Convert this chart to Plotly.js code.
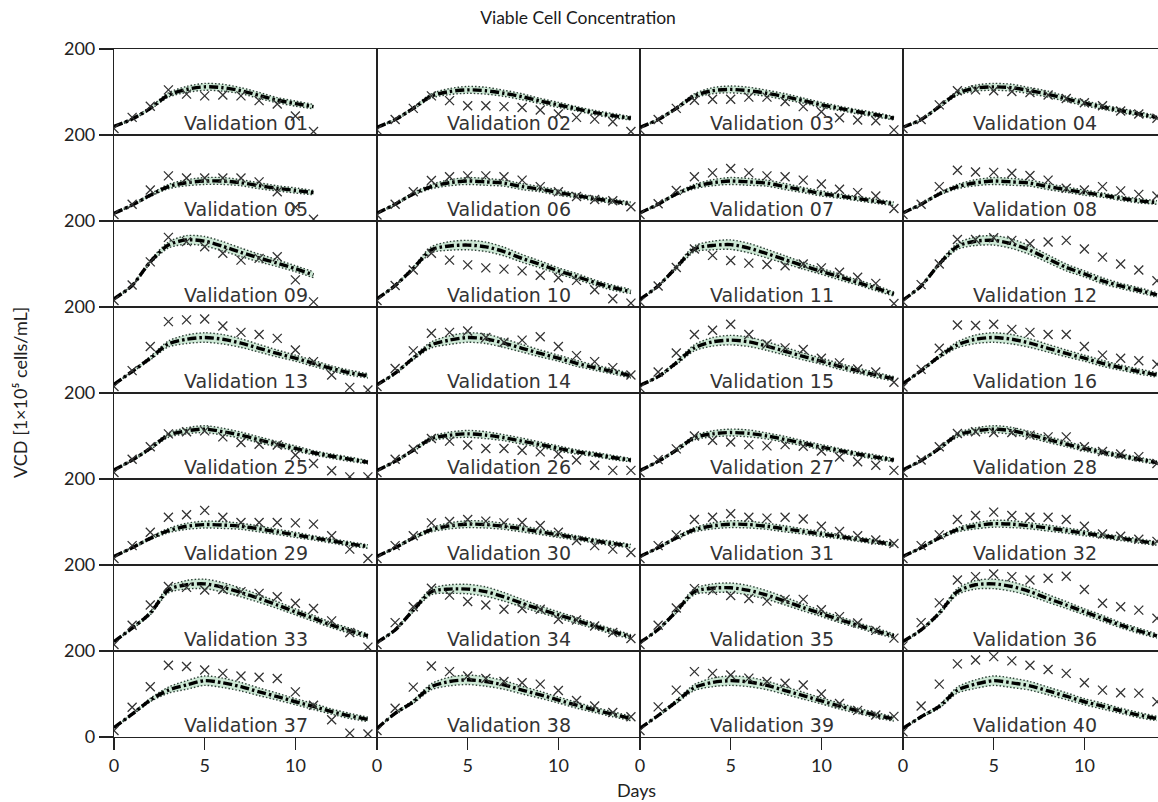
<!DOCTYPE html>
<html><head><meta charset="utf-8">
<script src="https://cdn.plot.ly/plotly-3.0.1.min.js"></script>
<style>html,body{margin:0;padding:0;overflow:hidden;background:#fff}#chart{width:1170px;height:802px}</style>
</head><body><div id="chart"></div>
<script>
const days = [0,1,2,3,4,5,6,7,8,9,10,11,12,13,14];
const labels = ["Validation 01","Validation 02","Validation 03","Validation 04",
"Validation 05","Validation 06","Validation 07","Validation 08",
"Validation 09","Validation 10","Validation 11","Validation 12",
"Validation 13","Validation 14","Validation 15","Validation 16",
"Validation 25","Validation 26","Validation 27","Validation 28",
"Validation 29","Validation 30","Validation 31","Validation 32",
"Validation 33","Validation 34","Validation 35","Validation 36",
"Validation 37","Validation 38","Validation 39","Validation 40"];

const predicted = [
[20,37,62,93,106,112,110,103,92,81,73,66],
[18,36,62,91,101,105,103,97,89,79,70,61,52,45,39],
[18,36,62,91,103,106,103,97,89,80,70,62,54,47,39],
[18,36,66,97,109,112,110,103,95,84,74,65,57,49,41],
[18,37,60,80,89,93,93,89,82,76,71,66],
[18,39,63,80,89,93,91,88,80,74,66,59,52,46,40],
[19,39,63,80,89,93,91,88,80,72,64,58,52,46,40],
[19,39,63,80,89,93,91,88,80,73,66,60,53,47,43],
[19,50,105,144,156,153,141,127,114,102,89,75],
[19,50,90,133,142,144,140,129,113,99,84,71,57,45,36],
[18,49,92,135,143,145,137,124,110,96,83,70,57,44,30],
[16,49,100,141,153,155,147,132,112,92,77,61,49,39,28],
[20,50,81,114,125,129,125,116,104,92,81,69,57,47,40],
[19,46,81,112,123,129,126,116,104,92,81,69,59,50,40],
[18,38,70,105,119,123,119,109,97,85,74,62,52,42,33],
[22,52,85,112,125,129,125,116,104,92,81,69,59,50,42],
[21,44,71,102,112,116,110,102,91,81,71,61,53,46,39],
[20,41,67,94,102,105,102,96,88,80,71,63,57,50,44],
[20,41,67,96,105,108,106,100,92,83,74,66,58,51,44],
[21,43,71,102,112,116,112,103,92,81,71,62,54,46,38],
[20,40,62,80,90,94,93,90,84,77,70,63,56,49,43],
[20,40,63,82,91,95,94,90,84,77,70,63,56,50,44],
[20,40,63,82,91,95,94,90,84,78,72,66,60,54,48],
[20,40,63,82,91,96,95,91,86,80,74,68,62,56,50],
[22,53,88,142,154,156,148,136,122,107,91,76,60,47,35],
[20,49,95,138,144,144,138,126,111,97,84,71,58,45,33],
[20,50,92,138,146,147,141,130,116,101,87,73,60,47,35],
[22,49,88,138,154,156,150,138,122,107,91,76,60,47,35],
[22,53,86,109,121,131,126,117,105,94,82,71,59,49,41],
[20,55,82,117,129,133,129,121,109,98,86,74,63,53,43],
[20,50,82,115,127,131,128,120,108,96,84,72,61,51,42],
[20,47,71,109,123,131,126,119,107,95,82,72,61,51,43]
];

const lower = [
[19,35,59,88,99,104,102,96,85,75,67,61],
[17,34,59,86,94,97,95,90,82,73,64,56,47,40,35],
[17,34,59,86,96,98,95,90,82,74,64,57,49,42,35],
[17,34,63,92,102,104,102,96,88,78,68,60,52,44,37],
[17,35,57,75,82,85,85,82,75,70,65,61],
[17,37,60,75,82,85,83,81,73,68,60,54,47,41,36],
[18,37,60,75,82,85,83,81,73,66,58,53,47,41,36],
[18,37,60,75,82,85,83,81,73,67,60,55,48,42,39],
[18,48,101,137,146,142,130,117,105,94,82,68],
[18,48,86,126,132,133,129,119,104,91,77,64,51,39,31],
[17,47,88,128,133,134,126,114,101,88,76,63,51,38,25],
[15,47,96,134,143,144,136,122,103,84,70,54,43,33,23],
[19,48,77,107,115,118,114,106,95,84,74,62,51,41,35],
[18,44,77,105,113,118,115,106,95,84,74,62,53,44,35],
[17,36,66,98,109,112,108,99,88,77,67,55,46,36,28],
[21,50,81,105,115,118,114,106,95,84,74,62,53,44,37],
[20,42,68,97,105,108,102,95,84,75,65,56,48,41,35],
[19,39,64,89,95,97,94,89,81,74,65,58,52,45,40],
[19,39,64,91,98,100,98,93,85,77,68,61,53,46,40],
[20,41,68,97,105,108,104,96,85,75,65,57,49,41,34],
[19,38,59,75,83,86,85,83,77,71,64,58,51,44,39],
[19,38,60,77,84,87,86,83,77,71,64,58,51,45,40],
[19,38,60,77,84,87,86,83,77,72,66,61,55,49,44],
[19,38,60,77,84,88,87,84,79,74,68,63,57,51,46],
[21,51,84,135,144,145,137,126,113,99,84,69,54,41,30],
[19,47,91,131,134,133,127,116,102,89,77,64,52,39,28],
[19,48,88,131,136,136,130,120,107,93,80,66,54,41,30],
[21,47,84,131,144,145,139,128,113,99,84,69,54,41,30],
[21,51,82,102,111,120,115,107,96,86,75,64,53,43,36],
[19,53,78,110,119,122,118,111,100,90,79,67,57,47,38],
[19,48,78,108,117,120,117,110,99,88,77,65,55,45,37],
[19,45,67,102,113,120,115,109,98,87,75,65,55,45,38]
];

const upper = [
[21,39,65,98,113,120,118,110,99,87,79,71],
[19,38,65,96,108,113,111,104,96,85,76,66,57,50,43],
[19,38,65,96,110,114,111,104,96,86,76,67,59,52,43],
[19,38,69,102,116,120,118,110,102,90,80,70,62,54,45],
[19,39,63,85,96,101,101,96,89,82,77,71],
[19,41,66,85,96,101,99,95,87,80,72,64,57,51,44],
[20,41,66,85,96,101,99,95,87,78,70,63,57,51,44],
[20,41,66,85,96,101,99,95,87,79,72,65,58,52,47],
[20,52,109,151,166,164,152,137,123,110,96,82],
[20,52,94,140,152,155,151,139,122,107,91,78,63,51,41],
[19,51,96,142,153,156,148,134,119,104,90,77,63,50,35],
[17,51,104,148,163,166,158,142,121,100,84,68,55,45,33],
[21,52,85,121,135,140,136,126,113,100,88,76,63,53,45],
[20,48,85,119,133,140,137,126,113,100,88,76,65,56,45],
[19,40,74,112,129,134,130,119,106,93,81,69,58,48,38],
[23,54,89,119,135,140,136,126,113,100,88,76,65,56,47],
[22,46,74,107,119,124,118,109,98,87,77,66,58,51,43],
[21,43,70,99,109,113,110,103,95,86,77,68,62,55,48],
[21,43,70,101,112,116,114,107,99,89,80,71,63,56,48],
[22,45,74,107,119,124,120,110,99,87,77,67,59,51,42],
[21,42,65,85,97,102,101,97,91,83,76,68,61,54,47],
[21,42,66,87,98,103,102,97,91,83,76,68,61,55,48],
[21,42,66,87,98,103,102,97,91,84,78,71,65,59,52],
[21,42,66,87,98,104,103,98,93,86,80,73,67,61,54],
[23,55,92,149,164,167,159,146,131,115,98,83,66,53,40],
[21,51,99,145,154,155,149,136,120,105,91,78,64,51,38],
[21,52,96,145,156,158,152,140,125,109,94,80,66,53,40],
[23,51,92,145,164,167,161,148,131,115,98,83,66,53,40],
[23,55,90,116,131,142,137,127,114,102,89,78,65,55,46],
[21,57,86,124,139,144,140,131,118,106,93,81,69,59,48],
[21,52,86,122,137,142,139,130,117,104,91,79,67,57,47],
[21,49,75,116,133,142,137,129,116,103,89,79,67,57,48]
];

const observed = [
[15,41,67,105,95,91,93,91,80,72,44,8],
[12,36,62,91,80,68,68,66,64,58,49,41,37,31,8],
[12,36,62,81,83,83,88,88,78,66,54,40,35,33,12],
[15,36,70,103,105,103,101,99,93,85,75,68,56,49,39],
[15,39,72,105,100,100,100,100,91,68,32,4],
[14,39,68,94,103,105,105,103,95,80,68,57,50,47,33],
[15,40,71,103,112,122,112,105,103,95,86,74,66,58,29],
[15,39,80,118,114,113,111,106,95,76,72,80,70,62,58],
[15,51,105,162,152,140,125,109,113,117,63,12],
[15,50,86,125,109,98,91,88,84,74,68,62,40,19,9],
[12,49,92,135,120,108,102,99,96,100,91,81,69,55,8],
[12,52,100,157,157,161,155,147,151,155,135,116,100,86,61],
[15,52,108,166,170,172,156,141,136,127,100,73,42,13,7],
[15,57,98,139,141,144,129,118,123,131,108,87,73,59,42],
[12,49,93,136,146,160,136,114,105,101,81,70,56,49,25],
[14,55,104,158,157,160,148,141,136,136,108,88,81,75,67],
[15,46,75,105,110,112,98,85,81,79,56,36,19,5,5],
[15,46,69,94,88,79,71,71,67,63,58,44,32,20,20],
[15,45,70,100,90,86,80,77,80,76,65,51,40,32,20],
[15,44,75,106,110,108,108,102,98,98,75,64,58,52,36],
[15,45,76,111,117,127,111,99,99,99,98,95,68,37,15],
[15,45,68,98,101,106,102,98,99,92,76,57,45,37,29],
[15,45,70,106,111,119,111,109,111,107,90,78,68,58,50],
[15,45,70,106,115,123,115,111,111,106,90,72,67,60,55],
[15,60,107,150,148,142,143,138,134,126,111,99,70,43,9],
[15,66,103,146,130,115,107,97,99,97,74,72,58,43,29],
[15,60,100,145,141,129,122,116,120,120,96,80,65,48,30],
[12,66,112,165,173,179,173,165,169,174,143,111,103,95,76],
[15,69,117,167,164,156,148,142,139,136,105,74,40,9,7],
[15,67,116,165,152,142,136,129,126,123,108,85,72,57,47],
[15,70,109,152,148,144,137,129,125,121,100,78,62,51,48],
[12,72,123,170,179,187,177,167,157,148,126,109,103,102,82]
];

const xTicks = [0,5,10];
const yRange = [0,200];
const xRange = [0,14.5];
const NCOL = 4, NROW = 8;
const PL = 114, PW = 1052, PT = 49, PH = 688;

const axFont = {family:"Lato, 'Open Sans', sans-serif", size:18, color:'#222'};
const traces = [];
const annotations = [];
const layout = {
  width:1170, height:802,
  margin:{l:PL, r:1170-PL-PW, t:PT, b:802-PT-PH},
  paper_bgcolor:'#fff', plot_bgcolor:'rgba(0,0,0,0)',
  showlegend:false,
  title:{text:'Viable Cell Concentration', xref:'container', x:578/1170, xanchor:'center',
         yref:'container', y:1-18/802, yanchor:'middle',
         font:{family:"Lato, 'Open Sans', sans-serif", size:17.5, color:'#1a1a1a'}},
  annotations: annotations
};

for (let i=0;i<labels.length;i++){
  const r = Math.floor(i/NCOL), c = i%NCOL;
  const sfx = i ? String(i+1) : '';
  const xa = 'x'+sfx, ya = 'y'+sfx;
  const bottomRow = r===NROW-1, firstCol = c===0;
  layout['xaxis'+sfx] = {domain:[c/NCOL,(c+1)/NCOL], range:xRange, anchor:ya,
    tickvals:xTicks, ticks: bottomRow?'outside':'', showticklabels:bottomRow,
    ticklen:12, tickwidth:1.2, tickcolor:'#222',
    showline:true, linecolor:'#222', linewidth:1.1, mirror:true,
    showgrid:false, zeroline:false, tickfont:axFont, fixedrange:true};
  layout['yaxis'+sfx] = {domain:[1-(r+1)/NROW, 1-r/NROW], range:yRange, anchor:xa,
    tickvals: bottomRow?[0,200]:[200], ticktext: bottomRow?['0','200']:['200'],
    ticks: firstCol?'outside':'', showticklabels:firstCol,
    ticklen:14, tickwidth:1.2, tickcolor:'#222',
    showline:true, linecolor:'#222', linewidth:1.1, mirror:true,
    showgrid:false, zeroline:false, tickfont:axFont, fixedrange:true};

  const xs = days.slice(0, predicted[i].length);
  const xo = days.slice(0, observed[i].length);
  traces.push({x:xs, y:lower[i], xaxis:xa, yaxis:ya, mode:'lines', type:'scatter',
    line:{color:'rgba(25,45,35,0.9)', width:1.4, dash:'1.5px,2px', shape:'spline', smoothing:0.8},
    hoverinfo:'skip'});
  traces.push({x:xs, y:upper[i], xaxis:xa, yaxis:ya, mode:'lines', type:'scatter',
    fill:'tonexty', fillcolor:'rgba(178,220,190,0.65)',
    line:{color:'rgba(25,45,35,0.9)', width:1.4, dash:'1.5px,2px', shape:'spline', smoothing:0.8},
    hoverinfo:'skip'});
  traces.push({x:xs, y:predicted[i], xaxis:xa, yaxis:ya, mode:'lines', type:'scatter',
    line:{color:'#000', width:3.4, dash:'9px,3px,2.5px,3px', shape:'spline', smoothing:0.8}});
  traces.push({x:xo, y:observed[i], xaxis:xa, yaxis:ya, mode:'markers', type:'scatter',
    marker:{symbol:'x-thin-open', size:9, color:'#333', line:{color:'#333', width:1.3}}});
  annotations.push({xref:xa+' domain', yref:ya+' domain', x:0.5, y:0, xanchor:'center', yanchor:'bottom',
    yshift:-1, text:labels[i], showarrow:false,
    font:{family:'DejaVu Sans', size:19, color:'#333'}});
}

annotations.push({xref:'paper', yref:'paper', x:(636-PL)/PW, y:-(790-PT-PH)/PH, xanchor:'center', yanchor:'middle',
  text:'Days', showarrow:false, font:axFont});
annotations.push({xref:'paper', yref:'paper', x:-(PL-20)/PW, y:0.5, xanchor:'center', yanchor:'middle',
  textangle:-90, text:'VCD [1×10⁵ cells/mL]', showarrow:false, font:axFont});

Plotly.newPlot('chart', traces, layout, {staticPlot:true, displayModeBar:false});
</script>
</body></html>
